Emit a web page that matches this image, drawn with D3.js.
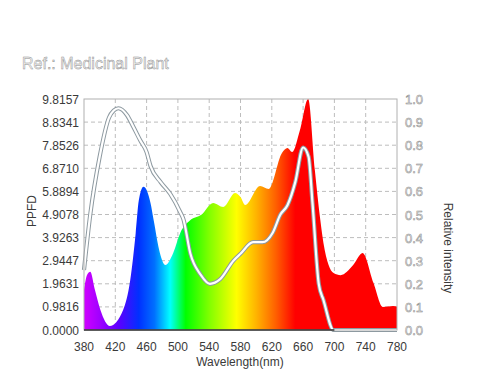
<!DOCTYPE html>
<html>
<head>
<meta charset="utf-8">
<script src="https://cdn.jsdelivr.net/npm/d3@7"></script>
<style>
  body { margin: 0; background: #fff; }
  svg { display: block; font-family: "Liberation Sans", Arial, sans-serif; }
</style>
</head>
<body>
<svg width="480" height="377"></svg>
<script>
// spectrum (PPFD)
const specWl  = [380, 384, 388, 394, 401, 413, 430, 439, 446, 450, 456, 465, 469, 477, 484, 494, 503, 516, 530, 545, 558, 573, 580, 586, 605, 616, 633, 640, 646, 656, 666.5, 675, 682, 686, 699, 708, 724, 736, 750, 762, 775, 780];
const specVal = [1.7, 2.35, 2.48, 1.7, 0.85, 0.17, 0.85, 2.1, 4.1, 5.5, 6.09, 5.4, 4.67, 3.27, 2.76, 3.27, 4.12, 4.67, 4.9, 5.4, 5.23, 5.82, 5.65, 5.31, 6.12, 5.99, 7.52, 7.73, 7.56, 8.5, 9.8157, 6.8, 4.67, 3.7, 2.42, 2.33, 2.76, 3.27, 2.0, 0.98, 1.02, 1.0];

// relative intensity curve
const relWl  = [380, 388, 400, 412, 418, 424, 435, 443, 452, 460, 465, 478, 490, 503, 507, 516, 529, 541, 554, 571, 580, 596, 608, 621, 631, 640, 650, 660, 667, 672, 680, 686, 699, 780];
const relVal = [0.26, 0.5, 0.75, 0.92, 0.95, 0.96, 0.93, 0.88, 0.82, 0.77, 0.71, 0.64, 0.59, 0.51, 0.48, 0.33, 0.24, 0.20, 0.22, 0.30, 0.33, 0.38, 0.38, 0.42, 0.50, 0.54, 0.64, 0.79, 0.75, 0.55, 0.20, 0.13, 0.0, 0.0];

const xTicks = [380, 420, 460, 500, 540, 580, 620, 660, 700, 740, 780];
const ppfdMax = 9.8157;
const leftTicks = d3.range(0, 11).map(i => ppfdMax * i / 10);
const rightTicks = d3.range(0, 11).map(i => i / 10);

// colour stops of the spectrum fill
const gradWl  = [380, 400, 425, 450, 470, 490, 510, 540, 575, 600, 625, 650, 780];
const gradCol = ["#d000ff", "#a000ff", "#5a00ff", "#0030ff", "#0070ff", "#00ffff", "#00ff00", "#80ff00", "#ffff00", "#ffb400", "#ff6000", "#ff0000", "#ff0000"];

var svg = d3.select("svg");
var pl = 84, pr = 397, pt = 99, pb = 330;

var x = d3.scaleLinear().domain([380, 780]).range([pl, pr]);
var yL = d3.scaleLinear().domain([0, ppfdMax]).range([pb, pt]);
var yR = d3.scaleLinear().domain([0, 1]).range([pb, pt]);

var grad = svg.append("defs").append("linearGradient")
    .attr("id", "spec").attr("gradientUnits", "userSpaceOnUse")
    .attr("x1", x(380)).attr("x2", x(780)).attr("y1", 0).attr("y2", 0);
grad.selectAll("stop").data(gradWl).enter().append("stop")
    .attr("offset", d => (d - 380) / 400)
    .attr("stop-color", (d, i) => gradCol[i]);

// title
svg.append("text").attr("x", 22).attr("y", 69)
    .attr("font-size", 16).attr("fill", "#f2f2f2").attr("stroke", "#8f8f8f").attr("stroke-width", 0.45)
    .text("Ref.: Medicinal Plant");

// grid
var grid = svg.append("g").attr("stroke", "#bdbdbd").attr("stroke-dasharray", "4,3").attr("stroke-width", 1);
grid.selectAll("line.v").data(xTicks.slice(1, -1)).enter().append("line")
    .attr("x1", d => x(d)).attr("x2", d => x(d)).attr("y1", pt).attr("y2", pb);
grid.selectAll("line.h").data(rightTicks.slice(1, -1)).enter().append("line")
    .attr("x1", pl).attr("x2", pr).attr("y1", d => yR(d)).attr("y2", d => yR(d));

// spectrum area
var spec = specWl.map((w, i) => [w, specVal[i]]);
var area = d3.area().x(d => x(d[0])).y0(pb).y1(d => yL(d[1])).curve(d3.curveMonotoneX);
svg.append("path").datum(spec).attr("d", area).attr("fill", "url(#spec)");

// relative intensity: gray outline + white core
var rel = relWl.map((w, i) => [w, relVal[i]]);
var line = d3.line().x(d => x(d[0])).y(d => yR(d[1])).curve(d3.curveMonotoneX);
svg.append("path").datum(rel).attr("d", line).attr("fill", "none")
    .attr("stroke", "#8d99a0").attr("stroke-width", 4.2);
svg.append("path").datum(rel).attr("d", line).attr("fill", "none")
    .attr("stroke", "#fff").attr("stroke-width", 2.2);

// frame
svg.append("rect").attr("x", pl).attr("y", pt).attr("width", pr - pl).attr("height", pb - pt)
    .attr("fill", "none").attr("stroke", "#b0b0b0");
svg.append("line").attr("x1", pl).attr("x2", x(700)).attr("y1", pb).attr("y2", pb)
    .attr("stroke", "#333").attr("stroke-width", 1.5);

// left axis
svg.append("g").attr("font-size", 12).attr("fill", "#3a3a3a").attr("text-anchor", "end")
  .selectAll("text").data(leftTicks).enter().append("text")
    .attr("x", pl - 5).attr("y", d => yL(d) + 4.5)
    .text(d => d.toFixed(4));

// right axis
svg.append("g").attr("font-size", 13).attr("fill", "#f0f0f0").attr("stroke", "#8a8a8a").attr("stroke-width", 0.5)
  .selectAll("text").data(rightTicks).enter().append("text")
    .attr("x", pr + 8).attr("y", d => yR(d) + 5)
    .text(d => d.toFixed(1));

// x axis
svg.append("g").attr("font-size", 12).attr("fill", "#3a3a3a").attr("text-anchor", "middle")
  .selectAll("text").data(xTicks).enter().append("text")
    .attr("x", d => x(d)).attr("y", 351)
    .text(d => d);

svg.append("text").attr("x", 240).attr("y", 366).attr("text-anchor", "middle")
    .attr("font-size", 12).attr("fill", "#3a3a3a").text("Wavelength(nm)");
svg.append("text").attr("transform", "translate(36,211) rotate(-90)").attr("text-anchor", "middle")
    .attr("font-size", 12).attr("fill", "#3a3a3a").text("PPFD");
svg.append("text").attr("transform", "translate(444,248) rotate(90)").attr("text-anchor", "middle")
    .attr("font-size", 12).attr("fill", "#3a3a3a").text("Relative intensity");
</script>
</body>
</html>
